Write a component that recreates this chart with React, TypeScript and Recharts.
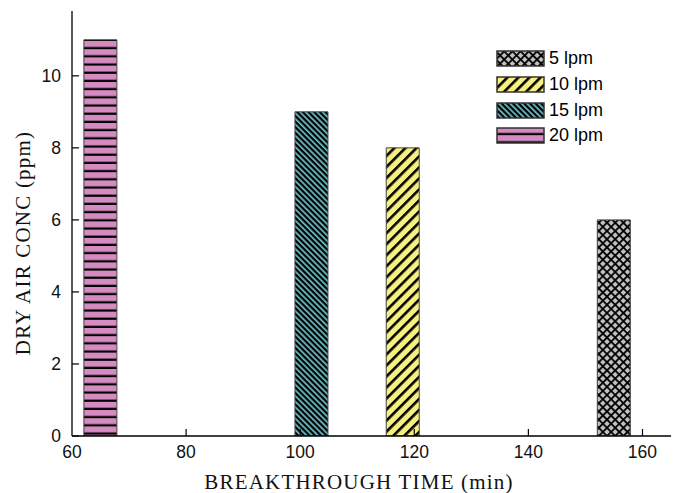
import { BarChart, Bar, Cell, XAxis, YAxis, Legend, Label } from 'recharts';

const series = ['5 lpm', '10 lpm', '15 lpm', '20 lpm'];
const breakthroughTime = [155, 118, 102, 65];
const dryAirConc = [6, 8, 9, 11];
const xTicks = [60, 80, 100, 120, 140, 160];
const yTicks = [0, 2, 4, 6, 8, 10];
const patternIds = ['pat5', 'pat10', 'pat15', 'pat20'];

const data = series.map((name, i) => ({ name, time: breakthroughTime[i], conc: dryAirConc[i] }));

const tickFont = '"Liberation Sans", Arial, sans-serif';
const titleFont = '"Liberation Serif", "Times New Roman", serif';

function YTick(props: any) {
  const { x, y, payload } = props;
  return (
    <g>
      <line x1={x + 10} x2={x + 17} y1={y} y2={y} stroke="#000" strokeWidth={1.2} />
      <text x={x - 1} y={y} dy="0.36em" textAnchor="end" fontFamily={tickFont} fontSize={17.5} fill="#111">
        {payload.value}
      </text>
    </g>
  );
}

function XTick(props: any) {
  const { x, y, payload } = props;
  return (
    <g>
      {payload.value !== 60 && (
        <line x1={x} x2={x} y1={y - 8} y2={y - 15} stroke="#000" strokeWidth={1.2} />
      )}
      <text x={x} y={y} dy="0.8em" textAnchor="middle" fontFamily={tickFont} fontSize={17.5} fill="#111">
        {payload.value}
      </text>
    </g>
  );
}

function LegendBox() {
  return (
    <div>
      {series.map((name, i) => (
        <div key={name} style={{ display: 'flex', alignItems: 'center', height: 25.7 }}>
          <svg width={50} height={17} style={{ display: 'block' }}>
            <rect x={1} y={1} width={47} height={15} fill={`url(#${patternIds[i]})`} stroke="#333" strokeWidth={1.5} />
          </svg>
          <span style={{ fontFamily: tickFont, fontSize: 18, color: '#000', marginLeft: 3 }}>{name}</span>
        </div>
      ))}
    </div>
  );
}

export default function App() {
  return (
    <div style={{ position: 'absolute', left: 0, top: 0 }}>
      <BarChart width={674} height={493} data={data} margin={{ top: 11, right: 3, left: 0, bottom: 0 }}>
        <defs>
          <pattern id="pat20" patternUnits="userSpaceOnUse" width={8} height={8.2}>
            <rect width={8} height={8.2} fill="#d58bc1" />
            <rect y={6} width={8} height={2.2} fill="#000" />
          </pattern>
          <pattern id="pat15" patternUnits="userSpaceOnUse" width={4} height={4} patternTransform="rotate(45)">
            <rect width={4} height={4} fill="#6fc6cf" />
            <rect y={0} width={4} height={2.3} fill="#000" />
          </pattern>
          <pattern id="pat10" patternUnits="userSpaceOnUse" width={7.8} height={7.8} patternTransform="rotate(-45)">
            <rect width={7.8} height={7.8} fill="#f6f07e" />
            <rect y={0} width={7.8} height={2.6} fill="#000" />
          </pattern>
          <pattern id="pat5" patternUnits="userSpaceOnUse" width={5.8} height={5.8} patternTransform="rotate(45)">
            <rect width={5.8} height={5.8} fill="#c0c0c0" />
            <rect y={0} width={5.8} height={1.8} fill="#000" />
            <rect x={0} width={1.8} height={5.8} fill="#000" />
          </pattern>
        </defs>
        <XAxis
          dataKey="time"
          type="number"
          domain={[60, 165]}
          ticks={xTicks}
          allowDataOverflow
          height={57}
          tickSize={0}
          tickMargin={8}
          tickLine={false}
          tick={<XTick />}
          axisLine={{ stroke: '#000', strokeWidth: 1.3 }}
        >
          <Label
            content={() => (
              <text x={359} y={489} textAnchor="middle" fontFamily={titleFont} fontSize={21} letterSpacing={1.2} fill="#111">
                BREAKTHROUGH TIME (min)
              </text>
            )}
          />
        </XAxis>
        <XAxis
          xAxisId="top"
          orientation="top"
          type="number"
          domain={[60, 165]}
          height={0}
          tick={false}
          tickLine={false}
          axisLine={{ stroke: '#666', strokeWidth: 1.3 }}
        />
        <YAxis
          type="number"
          domain={[0, 11.8]}
          ticks={yTicks}
          allowDataOverflow
          width={72}
          tickSize={0}
          tickMargin={10}
          tickLine={false}
          tick={<YTick />}
          axisLine={{ stroke: '#000', strokeWidth: 1.3 }}
        >
          <Label
            content={() => (
              <text
                x={23}
                y={243}
                transform="rotate(-90 23 243)"
                textAnchor="middle"
                dominantBaseline="central"
                fontFamily={titleFont}
                fontSize={21}
                letterSpacing={1.2}
                fill="#111"
              >
                DRY AIR CONC (ppm)
              </text>
            )}
          />
        </YAxis>
        <YAxis
          yAxisId="right"
          orientation="right"
          width={0}
          domain={[0, 11.8]}
          tick={false}
          tickLine={false}
          axisLine={{ stroke: '#000', strokeWidth: 1.5 }}
        />
        <Legend
          layout="vertical"
          align="center"
          verticalAlign="middle"
          content={<LegendBox />}
          wrapperStyle={{ top: 46, left: 496, width: 'auto', height: 'auto' }}
        />
        <Bar dataKey="conc" barSize={33} stroke="#444" strokeWidth={1} isAnimationActive={false}>
          {data.map((d, i) => (
            <Cell key={d.name} fill={`url(#${patternIds[i]})`} />
          ))}
        </Bar>
      </BarChart>
    </div>
  );
}
